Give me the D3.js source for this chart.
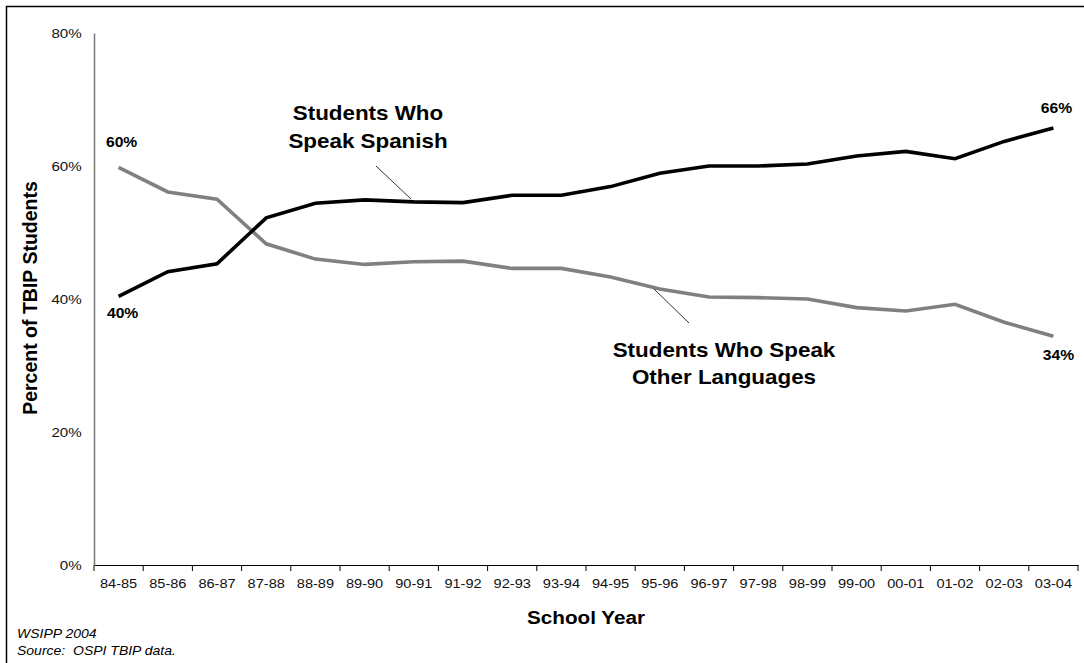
<!DOCTYPE html>
<html><head><meta charset="utf-8">
<script src="https://cdn.jsdelivr.net/npm/d3@7"></script>
<style>body{margin:0;background:#fff}svg{display:block;font-family:Arial,"Liberation Sans",sans-serif}</style>
</head><body><svg id="c" width="1084" height="663"></svg>
<script>
const years = ["84-85","85-86","86-87","87-88","88-89","89-90","90-91","91-92","92-93","93-94","94-95","95-96","96-97","97-98","98-99","99-00","00-01","01-02","02-03","03-04"];
const spanish = [40.4,44.1,45.3,52.2,54.4,54.9,54.6,54.5,55.6,55.6,56.9,58.9,60.0,60.0,60.3,61.5,62.2,61.1,63.7,65.7];
const other = [59.8,56.1,55.0,48.3,46.0,45.2,45.6,45.7,44.6,44.6,43.3,41.5,40.3,40.2,40.0,38.7,38.2,39.2,36.5,34.4];
const yTicks = [0,20,40,60,80];
const FF = "Arial, 'Liberation Sans', sans-serif";
const SX = 1.12;

const svg = d3.select("#c");
svg.append("path").attr("d","M6.5,663 L6.5,6.5 L1084,6.5").attr("fill","none").attr("stroke","#000").attr("stroke-width",1.5);

const x = d3.scaleBand().domain(years).range([94,1078]);
const y = d3.scaleLinear().domain([0,80]).range([565,33]);

const xa = svg.append("g").attr("transform","translate(0,565)")
  .call(d3.axisBottom(x).tickSize(0).tickPadding(14));
xa.select(".domain").attr("stroke","#000");
xa.selectAll("text").attr("font-size",13).attr("fill","#111").attr("font-family",FF).attr("transform",`scale(${SX},1)`)
  .attr("x",0);
// ticks at band boundaries
const bounds = years.map(d=>x(d)).concat([x.range()[1]]);
svg.append("g").selectAll("line").data(bounds).join("line")
  .attr("x1",d=>d).attr("x2",d=>d).attr("y1",565).attr("y2",571).attr("stroke","#000");

const ya = svg.append("g").attr("transform","translate(94,0)")
  .call(d3.axisLeft(y).tickValues(yTicks).tickFormat(d=>d+"%").tickSize(0).tickPadding(11));
ya.select(".domain").attr("stroke","#777").attr("stroke-width",1.5);
ya.selectAll("text").attr("font-size",13.5).attr("fill","#111").attr("font-family",FF).attr("transform",`scale(${SX},1)`);

const line = d3.line().x((d,i)=>x(years[i])+x.bandwidth()/2).y(d=>y(d));
svg.append("path").datum(other).attr("d",line).attr("fill","none").attr("stroke","#808080").attr("stroke-width",3.6);
svg.append("path").datum(spanish).attr("d",line).attr("fill","none").attr("stroke","#000").attr("stroke-width",3.6);

function txt(t,px,py,size,opts={}){
  const e = svg.append("text").attr("transform",`translate(${px},${py}) scale(${SX},1)`)
    .attr("text-anchor",opts.anchor||"middle").attr("font-size",size).attr("font-family",FF)
    .attr("font-weight",opts.bold?"bold":"normal").text(t);
  if(opts.italic) e.attr("font-style","italic");
  if(opts.pre) e.attr("xml:space","preserve").style("white-space","pre");
  return e;
}
const cx = i => x(years[i])+x.bandwidth()/2;
txt(Math.round(other[0])+"%", cx(0)+3, y(other[0])-20, 14, {bold:true});
txt(Math.round(spanish[0])+"%", cx(0)+4, y(spanish[0])+22, 14, {bold:true});
txt(Math.round(spanish[19])+"%", cx(19)+3, y(spanish[19])-15, 14, {bold:true});
txt(Math.round(other[19])+"%", cx(19)+5, y(other[19])+24, 14, {bold:true});

txt("Students Who",368,120,20,{bold:true}); txt("Speak Spanish",368,148,20,{bold:true});
txt("Students Who Speak",724,357,20,{bold:true}); txt("Other Languages",724,384,20,{bold:true});
svg.append("line").attr("x1",376).attr("y1",166).attr("x2",411).attr("y2",199).attr("stroke","#000").attr("stroke-width",0.8);
svg.append("line").attr("x1",654).attr("y1",289).attr("x2",689).attr("y2",323).attr("stroke","#000").attr("stroke-width",0.8);

svg.append("text").attr("transform","translate(37,298) rotate(-90)").attr("text-anchor","middle").attr("font-size",19.5).attr("font-family",FF).attr("font-weight","bold").text("Percent of TBIP Students");
txt("School Year",586,624,18.5,{bold:true});
txt("WSIPP 2004",17,638,12.5,{anchor:"start",italic:true});
txt("Source:  OSPI TBIP data.",17,655,12.5,{anchor:"start",italic:true,pre:true});
</script></body></html>
